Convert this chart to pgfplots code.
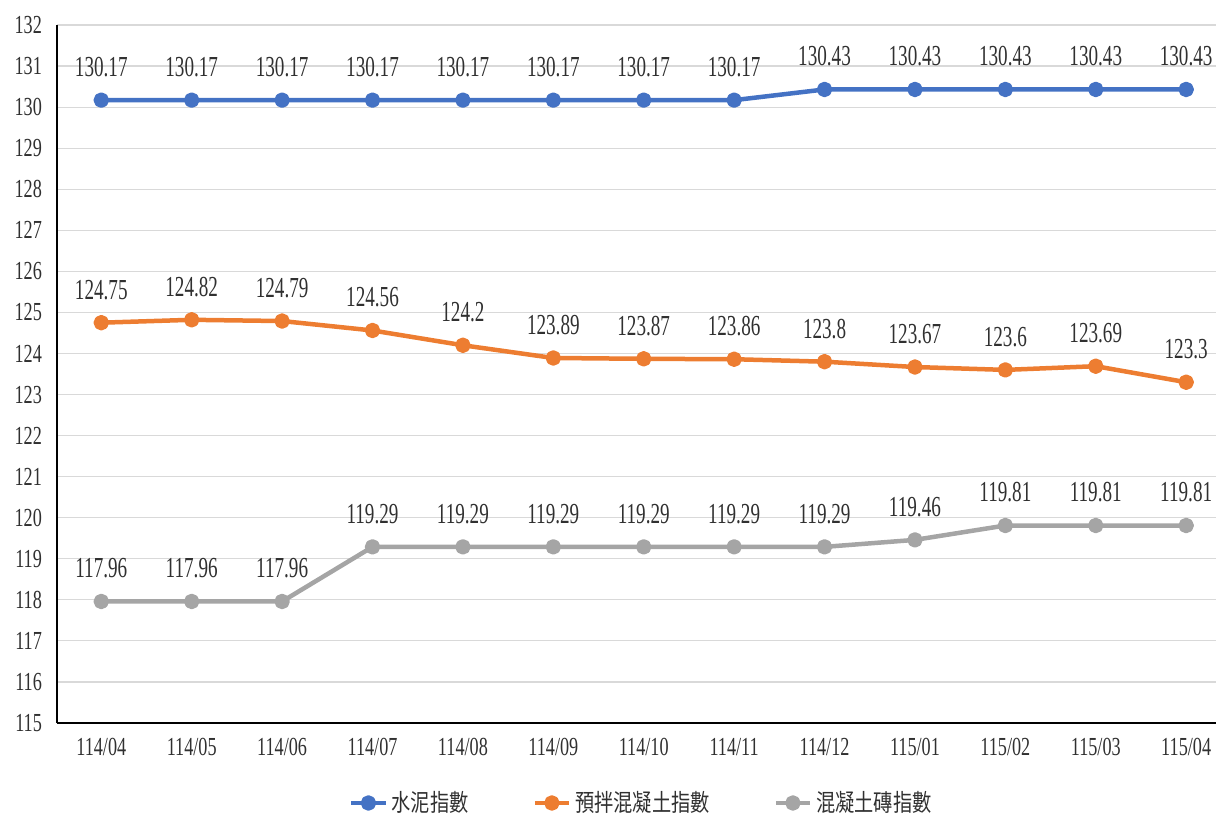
\documentclass[border=0pt]{standalone}
\usepackage{fontspec}
\setmainfont{Liberation Serif}[FakeStretch=0.7]
\newfontfamily\tickfont{Liberation Serif}[FakeStretch=0.7]
\newfontfamily\datafont{Liberation Serif}[FakeStretch=0.66]
\newfontfamily\cjk{Noto Sans CJK TC}[FakeStretch=0.8]
\usepackage{pgfplots}
\pgfplotsset{compat=1.18}

\definecolor{cblue}{HTML}{4472C4}
\definecolor{corange}{HTML}{ED7D31}
\definecolor{cgray}{HTML}{A5A5A5}
\definecolor{cgrid}{HTML}{D9D9D9}
\definecolor{ctext}{HTML}{303030}

\begin{document}
\begin{tikzpicture}
\begin{axis}[
  at={(0,0)}, anchor=south west,
  scale only axis, width=579.5pt, height=349pt,
  xmin=-0.49, xmax=12.33, ymin=115, ymax=132,
  ytick={115,116,...,132},
  xtick={0,...,12},
  xticklabels={114/04,114/05,114/06,114/07,114/08,114/09,114/10,114/11,114/12,115/01,115/02,115/03,115/04},
  axis x line*=bottom, axis y line*=left,
  axis line style={black, line width=1pt, -},
  ymajorgrids, grid style={cgrid, line width=0.6pt},
  major tick length=0pt, tick style={draw=none},
  tick label style={font=\tickfont\fontsize{13}{15}\selectfont, text=ctext},
  /pgf/number format/assume math mode=true,
  yticklabel style={xshift=-4pt},
  xticklabel style={yshift=-4pt},
  clip=false,
  nodes near coords,
  every node near coord/.append style={font=\datafont\fontsize{14.5}{16}\selectfont, text=ctext, anchor=center, yshift=16.5pt},
  legend style={at={(0.505,-0.1146)}, anchor=center, draw=none, fill=none,
    legend columns=3, font=\cjk\fontsize{12}{14}\selectfont, text=ctext,
    /tikz/every even column/.append style={column sep=30pt}},
  legend cell align=left,
  every axis plot/.append style={line width=2.25pt, mark=*, mark size=2.75pt, line join=round},
]
\addplot[cblue] coordinates {
  (0,130.17) (1,130.17) (2,130.17) (3,130.17) (4,130.17) (5,130.17) (6,130.17)
  (7,130.17) (8,130.43) (9,130.43) (10,130.43) (11,130.43) (12,130.43)};
\addlegendentry{水泥指數}
\addplot[corange] coordinates {
  (0,124.75) (1,124.82) (2,124.79) (3,124.56) (4,124.2) (5,123.89) (6,123.87)
  (7,123.86) (8,123.8) (9,123.67) (10,123.6) (11,123.69) (12,123.3)};
\addlegendentry{預拌混凝土指數}
\addplot[cgray] coordinates {
  (0,117.96) (1,117.96) (2,117.96) (3,119.29) (4,119.29) (5,119.29) (6,119.29)
  (7,119.29) (8,119.29) (9,119.46) (10,119.81) (11,119.81) (12,119.81)};
\addlegendentry{混凝土磚指數}
\end{axis}
\pgfresetboundingbox
\path (-28.5pt,-46.5pt) rectangle (579.5pt,361.5pt);
\end{tikzpicture}
\end{document}
